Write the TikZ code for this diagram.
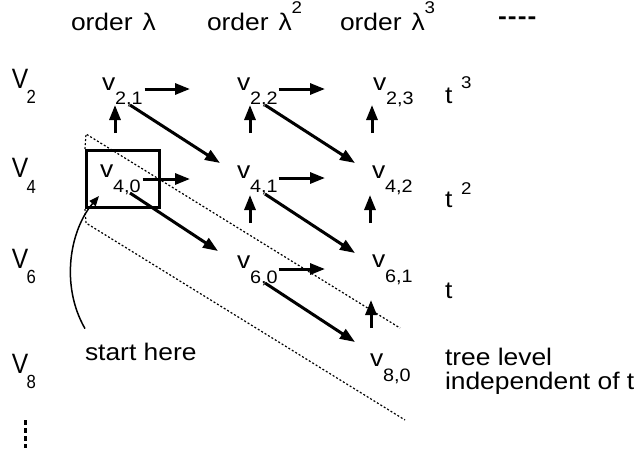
\documentclass[tikz,border=0pt]{standalone}
\usepackage{fontspec}
\setmainfont{Liberation Sans}
\usetikzlibrary{arrows.meta,calc}
\newcommand\mysub{\fontsize{18}{20}\selectfont}
\newcommand\mysup{\fontsize{17}{20}\selectfont}
\newcommand\vsub{\fontsize{19}{20}\selectfont}
\begin{document}
\begin{tikzpicture}[x=1pt,y=-1pt,
  txt/.style={anchor=base west, inner sep=0pt, outer sep=0pt, font=\fontsize{24}{28}\selectfont, xscale=1.1},
  vlab/.style={anchor=base west, inner sep=0pt, outer sep=0pt, font=\fontsize{28}{30}\selectfont, xscale=0.88},
  arr/.style={line width=3pt, -{Triangle[length=15pt,width=11pt]}},
  dots/.style={line width=1.2pt, dash pattern=on 2pt off 2pt},
  boxst/.style={draw, line width=3pt, minimum width=73pt, minimum height=57pt, inner sep=0pt},
]
\useasboundingbox (0,0) rectangle (642,455);

% header
\node[txt] (o1) at (71,30) {order\hspace{9pt}λ};
\node[txt] (o2) at (207,30) {order\hspace{9pt}λ\raisebox{17pt}{\mysup 2}};
\node[txt] (o3) at (340,30) {order\hspace{9pt}λ\raisebox{17pt}{\mysup 3}};
\node[txt] (etc) at (498,24) {\bfseries -{}\hspace{1pt}-{}\hspace{1pt}-{}\hspace{1pt}-};

% row labels
\node[vlab] (V2) at (12,88) {V\hspace{-2pt}\raisebox{-15pt}{\vsub 2}};
\node[vlab] (V4) at (12,177) {V\hspace{-2pt}\raisebox{-16pt}{\vsub 4}};
\node[vlab] (V6) at (12,268) {V\hspace{-2pt}\raisebox{-15pt}{\vsub 6}};
\node[vlab] (V8) at (12,373) {V\hspace{-2pt}\raisebox{-15pt}{\vsub 8}};
\draw[line width=3pt, dash pattern=on 5pt off 3pt] (25,420) -- (25,448);

% vertices
\node[txt] (v21) at (102,90) {v\raisebox{-14pt}{\mysub 2,1}};
\node[txt] (v22) at (237,90) {v\raisebox{-14pt}{\mysub 2,2}};
\node[txt] (v23) at (373,90) {v\raisebox{-14pt}{\mysub 2,3}};
\node[txt] (v40) at (100,177) {v\raisebox{-15pt}{\mysub 4,0}};
\node[txt] (v41) at (237,178) {v\raisebox{-14pt}{\mysub 4,1}};
\node[txt] (v42) at (372,178) {v\raisebox{-14pt}{\mysub 4,2}};
\node[txt] (v60) at (237,268) {v\raisebox{-15pt}{\mysub 6,0}};
\node[txt] (v61) at (372,267) {v\raisebox{-15pt}{\mysub 6,1}};
\node[txt] (v80) at (370,366) {v\raisebox{-15pt}{\mysub 8,0}};

% t labels
\node[txt] (t3) at (445,103) {t\hspace{8pt}\raisebox{15pt}{\mysup 3}};
\node[txt] (t2) at (445,207) {t\hspace{8pt}\raisebox{13pt}{\mysup 2}};
\node[txt] (t1) at (445,298) {t};
\node[txt] (tree) at (445,365) {tree level};
\node[txt] (indep) at (445,389) {independent of t};
\node[txt] (start) at (85,360) {start here};

% box
\node[boxst] (box) at (123,179) {};

% dotted lines
\coordinate (d0) at (86,134);
\coordinate (d1) at (400,328);
\coordinate (d2) at (86,223);
\coordinate (d3) at (405,420);
\draw[dots] (box.north west) -- (d0) -- (d1);
\draw[dots] (box.south west) -- (d2) -- (d3);

% horizontal arrows
\draw[arr, shorten >=47pt] ($(v21.base east)+(2,-1)$) -- ($(v22.base west)+(0,-1)$);
\draw[arr, shorten >=47pt] ($(v22.base east)+(1,-1)$) -- ($(v23.base west)+(-1,-1)$);
\draw[arr, shorten >=47pt] ($(v40.base east)+(2,2)$) -- ($(v41.base west)+(0,1)$);
\draw[arr, shorten >=47pt] ($(v41.base east)+(1,0)$) -- ($(v42.base west)+(0,0)$);
\draw[arr, shorten >=47pt] ($(v60.base east)+(1,1)$) -- ($(v61.base west)+(0,2)$);

% up arrows
\draw[arr] ($(v40.base west)+(15,-44)$) -- ($(v21.base west)+(13,15)$);
\draw[arr] ($(v41.base west)+(13,-45)$) -- ($(v22.base west)+(13,15)$);
\draw[arr] ($(v42.base west)+(0,-45)$) -- ($(v23.base west)+(-1,15)$);
\draw[arr] ($(v60.base west)+(13,-45)$) -- ($(v41.base west)+(13,17)$);
\draw[arr] ($(v61.base west)+(-2,-44)$) -- ($(v42.base west)+(-2,17)$);
\draw[arr] ($(v80.base west)+(1,-38)$) -- ($(v61.base west)+(-1,33)$);

% diagonal arrows
\draw[arr] ($(v21.base west)+(28,15)$) -- ($(v41.base west)+(-17,-15)$);
\draw[arr] ($(v22.base west)+(28,15)$) -- ($(v42.base west)+(-17,-15)$);
\draw[arr] ($(v40.base west)+(30,16)$) -- ($(v60.base west)+(-19,-17)$);
\draw[arr] ($(v41.base west)+(28,16)$) -- ($(v61.base west)+(-17,-14)$);
\draw[arr] ($(v60.base west)+(28,15)$) -- ($(v80.base west)+(-15,-24)$);

% start here curve
\draw[line width=1.5pt, -{Triangle[length=10pt,width=8pt]}] ($(start.north west)+(0,-14)$) .. controls (60,285) and (70,230) .. ($(box.south west)+(14,-13)$);
\end{tikzpicture}
\end{document}
